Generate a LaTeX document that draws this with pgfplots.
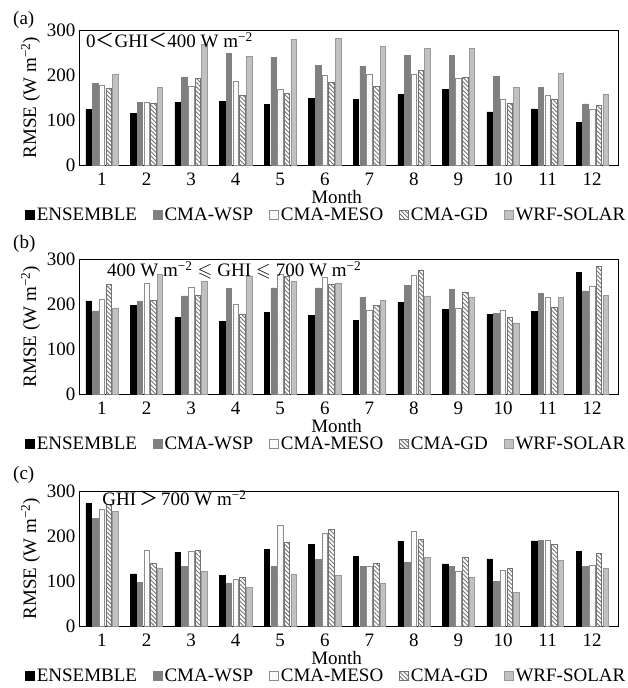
\documentclass[border=0pt]{standalone}
\usepackage{fontspec}
\setmainfont{Liberation Serif}
\newfontfamily\cjk{Noto Sans CJK SC}
\usepackage{amssymb}
\usepackage{pgfplots}
\usepackage{pgfplotstable}
\pgfplotsset{compat=1.18}
\usetikzlibrary{patterns.meta}
\newcommand{\fs}{\fontsize{19}{22}\selectfont}

\pgfplotstableread{
m ens wsp meso gd wrf
1 123 181 178 171 201
2 115 140 140 137 172
3 140 196 176 193 268
4 141 248 187 154 241
5 134 240 169 160 279
6 148 222 199 183 282
7 146 219 201 174 263
8 157 243 201 210 259
9 168 243 192 194 259
10 118 197 147 138 172
11 125 172 155 147 203
12 94 136 123 132 158
}\dataA

\pgfplotstableread{
m ens wsp meso gd wrf
1 207 185 211 243 191
2 197 206 247 208 265
3 171 218 238 220 250
4 161 235 199 178 261
5 182 236 267 262 250
6 175 236 259 243 247
7 163 215 187 197 208
8 203 241 264 276 218
9 188 232 191 227 216
10 177 180 187 171 158
11 184 224 216 193 215
12 270 229 240 284 219
}\dataB

\pgfplotstableread{
m ens wsp meso gd wrf
1 272 240 260 270 254
2 116 97 168 140 129
3 163 132 166 169 121
4 113 96 104 108 86
5 171 132 223 187 115
6 182 148 207 214 113
7 154 132 132 140 94
8 188 142 210 192 152
9 138 132 121 152 109
10 149 100 124 128 75
11 189 191 191 181 146
12 166 132 135 162 128
}\dataC

\pgfplotsset{
 panel/.style={
  scale only axis, width=539pt, height=135pt,
  anchor=south west,
  xmin=0.484, xmax=12.58, ymin=0, ymax=300,
  ybar=1.2pt, bar width=5.5pt,
  xtick={1,...,12}, ytick={0,100,200,300},
  tick style={draw=none},
  axis line style={line width=0.8pt},
  /pgf/number format/assume math mode=true,
  tick label style={font=\fs},
  label style={font=\fs},
  xlabel={Month},
  ylabel={RMSE (W m\textsuperscript{−2})},
  xlabel style={at={(ticklabel cs:0.478)}, anchor=north, inner sep=0pt, yshift=-1pt},
  legend columns=5,
  legend style={draw=none, fill=none, font=\fs,
    at={(axis description cs:-0.1,-0.372)}, anchor=west, inner sep=0pt,
    /tikz/every even column/.append style={column sep=14pt},
    nodes={inner xsep=2pt, inner ysep=0pt}},
  clip=false,
 },
 sq/.style={/pgfplots/legend image code/.code={\draw[##1] (0pt,-4.5pt) rectangle (9pt,4.5pt);}},
 sEns/.style={fill=black, draw=black, line width=0.5pt, sq},
 sWsp/.style={fill=black!50, draw=black!50, line width=0.5pt, sq},
 sMeso/.style={fill=white, draw=black!45, line width=0.6pt,
   postaction={pattern={Dots[distance=3pt,radius=0.3pt]}, pattern color=black!40}, sq},
 sGd/.style={fill=white, draw=black!55, line width=0.6pt,
   postaction={pattern={Lines[angle=-45,distance=3pt,line width=0.9pt]}, pattern color=black!55}, sq},
 sWrf/.style={fill=black!25, draw=black!40, line width=0.6pt,
   postaction={pattern={Dots[distance=2pt,radius=0.35pt]}, pattern color=white!85!black}, sq},
}

\begin{document}
\begin{tikzpicture}[font=\fs]
\useasboundingbox (0pt,0pt) rectangle (628pt,-688pt);

\node[anchor=base west, inner sep=0pt] at (13pt,-24pt) {(a)};
\node[anchor=base west, inner sep=0pt] at (13pt,-248pt) {(b)};
\node[anchor=base west, inner sep=0pt] at (13pt,-479pt) {(c)};

\begin{axis}[panel, at={(79pt,-165pt)}]
\addplot[sEns] table[x=m,y=ens] {\dataA};
\addplot[sWsp] table[x=m,y=wsp] {\dataA};
\addplot[sMeso] table[x=m,y=meso] {\dataA};
\addplot[sGd] table[x=m,y=gd] {\dataA};
\addplot[sWrf] table[x=m,y=wrf] {\dataA};
\legend{ENSEMBLE,CMA-WSP,CMA-MESO,CMA-GD,WRF-SOLAR}
\node[anchor=base west, inner sep=0pt] at (axis description cs:0.013,0.867)
  {0{\cjk ＜}GHI{\cjk ＜}400 W m\textsuperscript{−2}};
\end{axis}

\begin{axis}[panel, at={(79pt,-394pt)}]
\addplot[sEns] table[x=m,y=ens] {\dataB};
\addplot[sWsp] table[x=m,y=wsp] {\dataB};
\addplot[sMeso] table[x=m,y=meso] {\dataB};
\addplot[sGd] table[x=m,y=gd] {\dataB};
\addplot[sWrf] table[x=m,y=wrf] {\dataB};
\legend{ENSEMBLE,CMA-WSP,CMA-MESO,CMA-GD,WRF-SOLAR}
\node[anchor=base west, inner sep=0pt] at (axis description cs:0.052,0.867)
  {400 W m\textsuperscript{−2}\hspace{5pt}$\leqslant$\hspace{5pt}GHI\hspace{5pt}$\leqslant$\hspace{5pt}700 W m\textsuperscript{−2}};
\end{axis}

\begin{axis}[panel, at={(79pt,-626pt)}]
\addplot[sEns] table[x=m,y=ens] {\dataC};
\addplot[sWsp] table[x=m,y=wsp] {\dataC};
\addplot[sMeso] table[x=m,y=meso] {\dataC};
\addplot[sGd] table[x=m,y=gd] {\dataC};
\addplot[sWrf] table[x=m,y=wrf] {\dataC};
\legend{ENSEMBLE,CMA-WSP,CMA-MESO,CMA-GD,WRF-SOLAR}
\node[anchor=base west, inner sep=0pt] at (axis description cs:0.043,0.889)
  {GHI\hspace{3pt}{\cjk ＞}\hspace{3pt}700 W m\textsuperscript{−2}};
\end{axis}
\end{tikzpicture}
\end{document}
